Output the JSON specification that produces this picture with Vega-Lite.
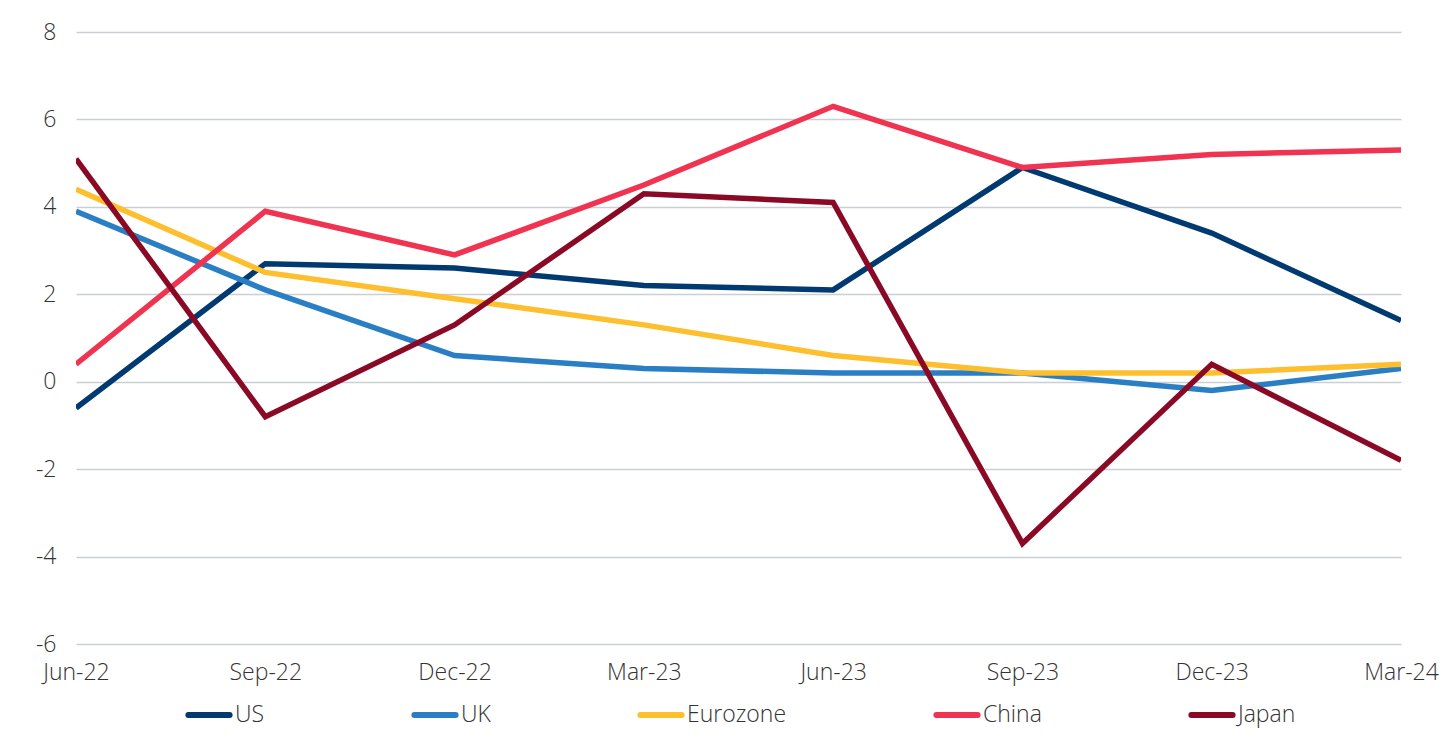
{
  "$schema": "https://vega.github.io/schema/vega-lite/v6.json",
  "width": 1325,
  "height": 612,
  "autosize": "none",
  "padding": {"left": 76, "top": 32, "right": 54, "bottom": 105},
  "background": "white",
  "config": {
    "view": {"stroke": null},
    "font": "Open Sans",
    "axis": {"labelFont": "Open Sans", "labelFontSize": 23, "labelFontWeight": 300, "labelColor": "#333333"},
    "legend": {"labelFont": "Open Sans", "labelFontSize": 23, "labelFontWeight": 300, "labelColor": "#333333"}
  },
  "data": {
    "values": [
      {"q": "Jun-22", "c": "US", "v": -0.6},
      {"q": "Sep-22", "c": "US", "v": 2.7},
      {"q": "Dec-22", "c": "US", "v": 2.6},
      {"q": "Mar-23", "c": "US", "v": 2.2},
      {"q": "Jun-23", "c": "US", "v": 2.1},
      {"q": "Sep-23", "c": "US", "v": 4.9},
      {"q": "Dec-23", "c": "US", "v": 3.4},
      {"q": "Mar-24", "c": "US", "v": 1.4},
      {"q": "Jun-22", "c": "UK", "v": 3.9},
      {"q": "Sep-22", "c": "UK", "v": 2.1},
      {"q": "Dec-22", "c": "UK", "v": 0.6},
      {"q": "Mar-23", "c": "UK", "v": 0.3},
      {"q": "Jun-23", "c": "UK", "v": 0.2},
      {"q": "Sep-23", "c": "UK", "v": 0.2},
      {"q": "Dec-23", "c": "UK", "v": -0.2},
      {"q": "Mar-24", "c": "UK", "v": 0.3},
      {"q": "Jun-22", "c": "Eurozone", "v": 4.4},
      {"q": "Sep-22", "c": "Eurozone", "v": 2.5},
      {"q": "Dec-22", "c": "Eurozone", "v": 1.9},
      {"q": "Mar-23", "c": "Eurozone", "v": 1.3},
      {"q": "Jun-23", "c": "Eurozone", "v": 0.6},
      {"q": "Sep-23", "c": "Eurozone", "v": 0.2},
      {"q": "Dec-23", "c": "Eurozone", "v": 0.2},
      {"q": "Mar-24", "c": "Eurozone", "v": 0.4},
      {"q": "Jun-22", "c": "China", "v": 0.4},
      {"q": "Sep-22", "c": "China", "v": 3.9},
      {"q": "Dec-22", "c": "China", "v": 2.9},
      {"q": "Mar-23", "c": "China", "v": 4.5},
      {"q": "Jun-23", "c": "China", "v": 6.3},
      {"q": "Sep-23", "c": "China", "v": 4.9},
      {"q": "Dec-23", "c": "China", "v": 5.2},
      {"q": "Mar-24", "c": "China", "v": 5.3},
      {"q": "Jun-22", "c": "Japan", "v": 5.1},
      {"q": "Sep-22", "c": "Japan", "v": -0.8},
      {"q": "Dec-22", "c": "Japan", "v": 1.3},
      {"q": "Mar-23", "c": "Japan", "v": 4.3},
      {"q": "Jun-23", "c": "Japan", "v": 4.1},
      {"q": "Sep-23", "c": "Japan", "v": -3.7},
      {"q": "Dec-23", "c": "Japan", "v": 0.4},
      {"q": "Mar-24", "c": "Japan", "v": -1.8}
    ]
  },
  "mark": {"type": "line", "strokeWidth": 5.5, "clip": true},
  "encoding": {
    "x": {
      "field": "q",
      "type": "ordinal",
      "sort": null,
      "scale": {"type": "point", "padding": 0},
      "axis": {
        "title": null,
        "labelAngle": 0,
        "domain": false,
        "ticks": false,
        "grid": false,
        "labelPadding": 17
      }
    },
    "y": {
      "field": "v",
      "type": "quantitative",
      "scale": {"domain": [-6, 8], "nice": false, "zero": false},
      "axis": {
        "title": null,
        "values": [-6, -4, -2, 0, 2, 4, 6, 8],
        "domain": false,
        "ticks": false,
        "grid": true,
        "gridColor": "#c9cfd3",
        "gridWidth": 1.5,
        "labelPadding": 20,
        "labelExpr": "replace(datum.label, '−', '-')"
      }
    },
    "color": {
      "field": "c",
      "type": "nominal",
      "scale": {
        "domain": ["US", "UK", "Eurozone", "China", "Japan"],
        "range": ["#003a70", "#2a7fc4", "#fdbf2d", "#ef3350", "#8a0a26"]
      },
      "legend": {
        "title": null,
        "orient": "none",
        "direction": "horizontal",
        "legendX": 109,
        "legendY": 659,
        "symbolType": "stroke",
        "symbolSize": 1700,
        "symbolStrokeWidth": 6,
        "labelOffset": 2,
        "columnPadding": 137,
        "encode": {"symbols": {"update": {"strokeCap": {"value": "round"}}}}
      }
    }
  }
}
